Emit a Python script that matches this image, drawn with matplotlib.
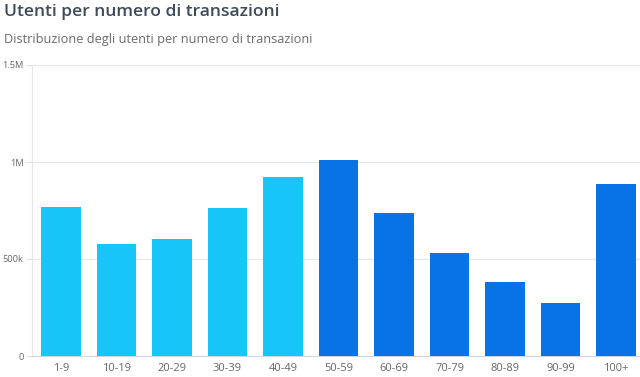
import numpy as np
import matplotlib.pyplot as plt

plt.rcParams['font.family'] = ['Open Sans', 'DejaVu Sans']

categories = ['1-9', '10-19', '20-29', '30-39', '40-49', '50-59',
              '60-69', '70-79', '80-89', '90-99', '100+']
users = [768000, 577000, 603000, 762000, 925000, 1008000,
         738000, 532000, 382000, 274000, 886000]
light = '#18C5F9'
dark = '#0873E7'
colors = [light] * 5 + [dark] * 6

fig = plt.figure(figsize=(6.4, 3.77), dpi=100)
ax = fig.add_axes([32 / 640, 1 - 356 / 377, 1 - 32 / 640, (356 - 65) / 377])

x = np.arange(len(categories))
ax.bar(x, users, width=0.71, color=colors, zorder=3)

ax.set_xlim(-0.52, 10.43)
ax.set_ylim(0, 1500000)
ax.set_yticks([0, 500000, 1000000, 1500000])
ax.set_yticklabels(['0', '500k', '1M', '1.5M'])
ax.set_xticks(x)
ax.set_xticklabels(categories)

ax.grid(axis='y', color='#e6e6e6', linewidth=0.8, zorder=0)
for s in ['top', 'right']:
    ax.spines[s].set_visible(False)
ax.spines['left'].set_color('#e6e6e6')
ax.spines['bottom'].set_color('#ccd6eb')
ax.tick_params(axis='y', colors='#e0e0e0', labelcolor='#666666', labelsize=6.7,
               length=4, width=0.8, pad=2)
ax.tick_params(axis='x', length=0, labelcolor='#666666', labelsize=8, pad=5)

fig.text(4 / 640, 1 - 12 / 377, 'Utenti per numero di transazioni', fontsize=12.6,
         color='#404b5a', fontweight='semibold', va='center', ha='left')
fig.text(4 / 640, 1 - 40 / 377, 'Distribuzione degli utenti per numero di transazioni',
         fontsize=9.2, color='#6b6b6b', va='center', ha='left')

fig.savefig('out.png', dpi=100)
